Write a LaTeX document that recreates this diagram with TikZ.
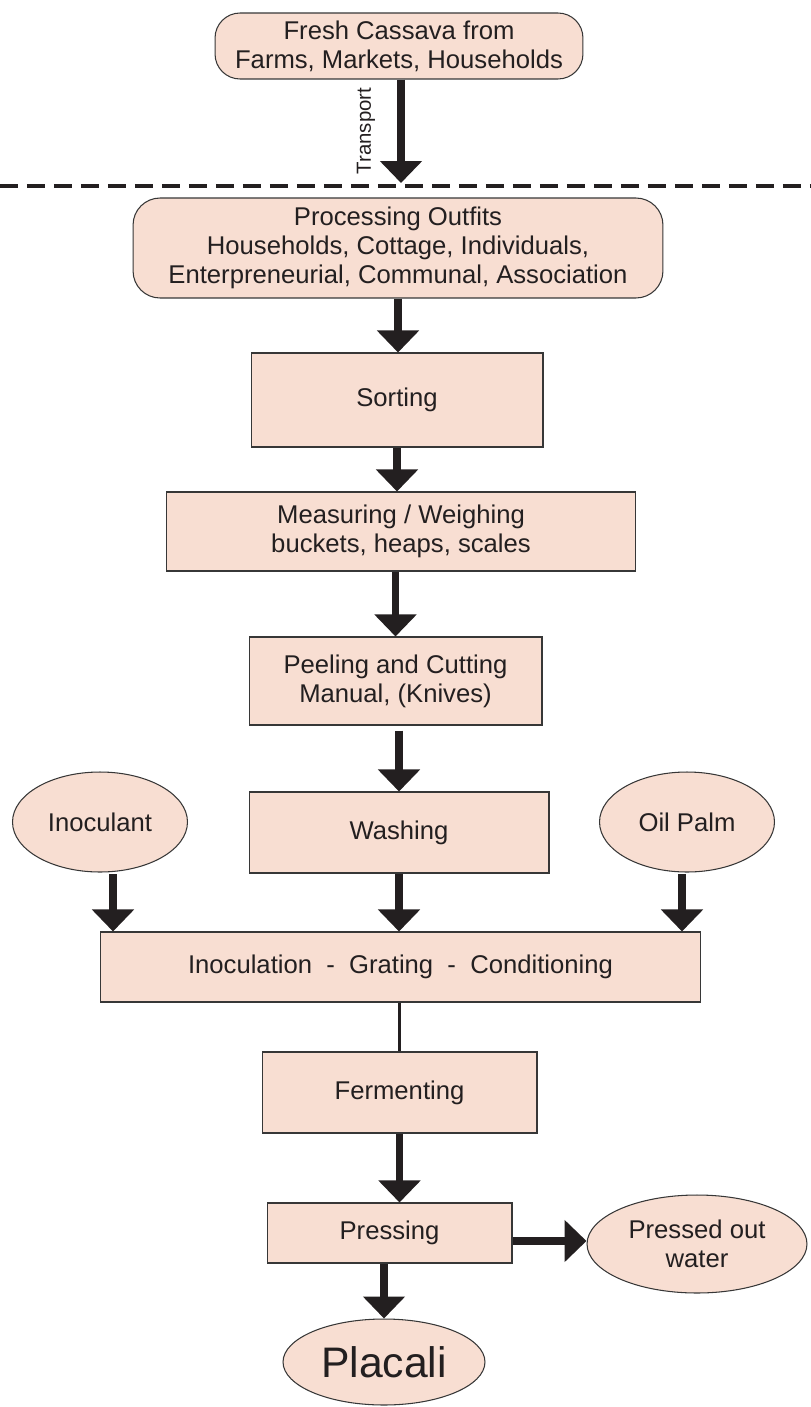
\documentclass[tikz,border=0pt]{standalone}
\usepackage{fontspec}
\setmainfont{Liberation Sans}
\usetikzlibrary{positioning,arrows.meta,shapes.geometric}
\definecolor{peach}{RGB}{248,222,210}
\definecolor{rim}{RGB}{55,55,55}
\definecolor{ink}{RGB}{35,31,32}

\begin{document}
\begin{tikzpicture}[x=0.02cm, y=-0.02cm,
    every node/.style={font=\fontsize{14.6}{16.4}\selectfont, text=ink},
    box/.style={rectangle, draw=rim, fill=peach, line width=0.6pt, align=center, inner sep=0pt},
    roundbox/.style={box, rounded corners=0.5cm},
    blob/.style={ellipse, draw=rim, fill=peach, line width=0.6pt, align=center, inner sep=0pt},
    flow/.style={draw=ink, line width=4.2pt, -{Triangle[width=0.82cm,length=0.44cm]}}]
  \useasboundingbox (0,0) rectangle (811,1407);

  % sources, above the cut
  \node (fresh) [roundbox, minimum width=7.36cm, minimum height=1.32cm] at (399,46)
    {Fresh Cassava from\\Farms, Markets, Households};
  \node (transport) [rotate=90, font=\fontsize{11.6}{13}\selectfont] at (366,131) {Transport};
  \coordinate (cut) at (401,183);
  \draw[draw=ink, line width=2.3pt, dash pattern=on 0.36cm off 0.18cm] (0,186) -- (811,186);

  % processing chain
  \node (outfits) [roundbox, rounded corners=0.54cm, minimum width=10.6cm, minimum height=2cm] at (398,248)
    {Processing Outfits\\Households, Cottage, Individuals,\\Enterpreneurial, Communal, Association};
  \node (sorting) [box, minimum width=5.84cm, minimum height=1.88cm] at (397,400) {Sorting};
  \node (measuring) [box, minimum width=9.4cm, minimum height=1.58cm] at (401,531.5)
    {Measuring / Weighing\\buckets, heaps, scales};
  \node (peeling) [box, minimum width=5.86cm, minimum height=1.76cm] at (395.5,681)
    {Peeling and Cutting\\Manual, (Knives)};
  \node (washing) [box, minimum width=6cm, minimum height=1.62cm] at (399,832.5) {Washing};
  \node (inoculant) [blob, minimum width=3.5cm, minimum height=2cm] at (100,822) {Inoculant};
  \node (oilpalm) [blob, minimum width=3.5cm, minimum height=2cm] at (687,822) {Oil Palm};
  \node (inoculation) [box, minimum width=12.02cm, minimum height=1.4cm] at (400.5,967)
    {Inoculation\ \ -\ \ Grating\ \ -\ \ Conditioning};
  \node (fermenting) [box, minimum width=5.5cm, minimum height=1.62cm] at (399.5,1092.5) {Fermenting};
  \node (pressing) [box, minimum width=4.9cm, minimum height=1.2cm] at (389.5,1233) {Pressing};
  \node (water) [blob, minimum width=4.4cm, minimum height=1.96cm] at (697,1244) {Pressed out\\water};
  \node (placali) [blob, minimum width=4.04cm, minimum height=1.72cm, font=\fontsize{24.3}{26}\selectfont]
    at (384,1362) {Placali};

  % side feeds and outlet
  \coordinate (inleft) at (113,874);
  \coordinate (inright) at (682,874);
  \coordinate (drain) at (513,1241);

  \draw[flow] (fresh.south -| cut) -- (cut);
  \draw[flow] (outfits.south) -- (outfits.south |- sorting.north);
  \draw[flow] (sorting.south) -- (sorting.south |- measuring.north);
  \draw[flow] (measuring.south -| peeling.north) -- (peeling.north);
  \draw[flow, shorten <=0.1cm] (peeling.south -| washing.north) -- (washing.north);
  \draw[flow] (washing.south) -- (washing.south |- inoculation.north);
  \draw[flow] (inleft) -- (inleft |- inoculation.north);
  \draw[flow] (inright) -- (inright |- inoculation.north);
  \draw[draw=ink, line width=1.5pt] (inoculation.south -| fermenting.north) -- (fermenting.north);
  \draw[flow] (fermenting.south) -- (fermenting.south |- pressing.north);
  \draw[flow] (pressing.south -| placali.north) -- (placali.north);
  \draw[flow] (drain) -- (drain -| water.west);
\end{tikzpicture}
\end{document}
